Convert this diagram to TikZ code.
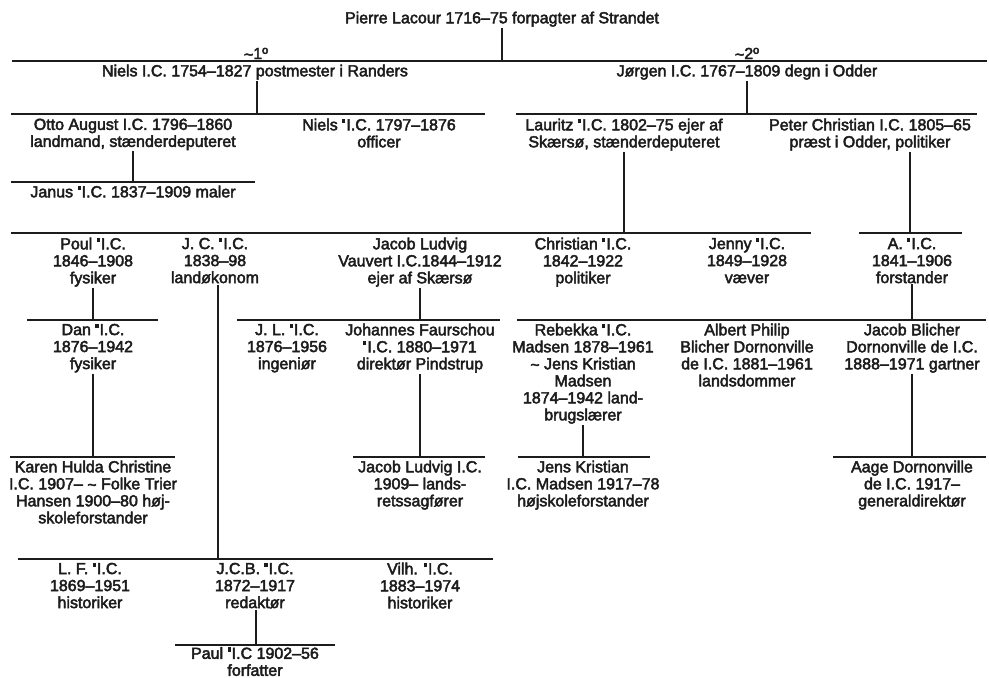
\documentclass[tikz,border=0pt]{standalone}
\usepackage{fontspec}
\setmainfont{Liberation Sans}[BoldFont=Liberation Sans,BoldFeatures={FakeBold=2.8}]
\definecolor{ink}{HTML}{1C1C1C}
\newcommand{\lcsq}{\raisebox{0.44em}{\rule{0.2em}{0.27em}}\kern0.06em}
\newcommand{\tld}{\raisebox{-0.06em}{\textasciitilde}}
\begin{document}
\begin{tikzpicture}[x=1pt,y=-1pt,
  every node/.style={inner xsep=0pt,inner ysep=1pt,text=ink,font=\fontsize{16}{17}\selectfont\bfseries},
  person/.style={anchor=north,align=center},
  marrlabel/.style={anchor=base},
  bar/.style={draw=ink,line width=1.2pt}]
\useasboundingbox (0,0) rectangle (989,678);
% ---------- persons ----------
\node[person] (pierre) at (502,10.5) {Pierre Lacour 1716–75 forpagter af Strandet};
\node[marrlabel] (m1) at (256,59) {\tld 1º};
\node[marrlabel] (m2) at (747,59) {\tld 2º};
\node[person] (niels) at (255,63.5) {Niels I.C. 1754–1827 postmester i Randers};
\node[person] (jorgen) at (747,63.5) {Jørgen I.C. 1767–1809 degn i Odder};
\node[person] (otto) at (133,117.5) {Otto August I.C. 1796–1860\\landmand, stænderdeputeret};
\node[person] (niels2) at (379,117.5) {Niels \lcsq I.C. 1797–1876\\officer};
\node[person] (lauritz) at (624,117.5) {Lauritz \lcsq I.C. 1802–75 ejer af\\Skærsø, stænderdeputeret};
\node[person] (peter) at (870,117.5) {Peter Christian I.C. 1805–65\\præst i Odder, politiker};
\node[person] (janus) at (133,184.5) {Janus \lcsq I.C. 1837–1909 maler};
\node[person] (poul) at (93,236.5) {Poul \lcsq I.C.\\1846–1908\\fysiker};
\node[person] (jc) at (215,236.5) {J. C. \lcsq I.C.\\1838–98\\landøkonom};
\node[person] (jacob) at (420,236.5) {Jacob Ludvig\\Vauvert I.C.1844–1912\\ejer af Skærsø};
\node[person] (christian) at (583,236.5) {Christian \lcsq I.C.\\1842–1922\\politiker};
\node[person] (jenny) at (747,236.5) {Jenny \lcsq I.C.\\1849–1928\\væver};
\node[person] (a) at (912,236.5) {A. \lcsq I.C.\\1841–1906\\forstander};
\node[person] (dan) at (93,322.5) {Dan \lcsq I.C.\\1876–1942\\fysiker};
\node[person] (jl) at (287,322.5) {J. L. \lcsq I.C.\\1876–1956\\ingeniør};
\node[person] (johannes) at (420,322.5) {Johannes Faurschou\\\lcsq I.C. 1880–1971\\direktør Pindstrup};
\node[person] (rebekka) at (583,322.5) {Rebekka \lcsq I.C.\\Madsen 1878–1961\\\tld\ Jens Kristian\\Madsen\\1874–1942 land-\\brugslærer};
\node[person] (albert) at (747,322.5) {Albert Philip\\Blicher Dornonville\\de I.C. 1881–1961\\landsdommer};
\node[person] (jblicher) at (912,322.5) {Jacob Blicher\\Dornonville de I.C.\\1888–1971 gartner};
\node[person] (karen) at (93,459.5) {Karen Hulda Christine\\I.C. 1907– \tld\ Folke Trier\\Hansen 1900–80 høj-\\skoleforstander};
\node[person] (jlic) at (420,459.5) {Jacob Ludvig I.C.\\1909– lands-\\retssagfører};
\node[person] (jens) at (583,459.5) {Jens Kristian\\I.C. Madsen 1917–78\\højskoleforstander};
\node[person] (aage) at (912,459.5) {Aage Dornonville\\de I.C. 1917–\\generaldirektør};
\node[person] (lf) at (90,561.5) {L. F. \lcsq I.C.\\1869–1951\\historiker};
\node[person] (jcb) at (255,561.5) {J.C.B. \lcsq I.C.\\1872–1917\\redaktør};
\node[person] (vilh) at (420,561.5) {Vilh. \lcsq I.C.\\1883–1974\\historiker};
\node[person] (paul) at (255,646) {Paul \lcsq I.C 1902–56\\forfatter};
% ---------- sibling bars ----------
\coordinate (b0l) at (12,61);   \coordinate (b0r) at (987,61);
\coordinate (b1l) at (11,114);  \coordinate (b1r) at (485,114);
\coordinate (b1l2) at (516,114);\coordinate (b1r2) at (977,114);
\coordinate (b2l) at (11,182);  \coordinate (b2r) at (255,182);
\coordinate (b3l) at (11,233);  \coordinate (b3r) at (811,233);
\coordinate (b3l2) at (859,233);\coordinate (b3r2) at (962,233);
\coordinate (b4l) at (27,320);  \coordinate (b4r) at (158,320);
\coordinate (b4l2) at (237,320);\coordinate (b4r2) at (500,320);
\coordinate (b4l3) at (517,320);\coordinate (b4r3) at (986,320);
\coordinate (b5l) at (10,457);  \coordinate (b5r) at (175,457);
\coordinate (b5l2) at (353,457);\coordinate (b5r2) at (485,457);
\coordinate (b5l3) at (518,457);\coordinate (b5r3) at (650,457);
\coordinate (b5l4) at (833,457);\coordinate (b5r4) at (986,457);
\coordinate (b6l) at (18,559);  \coordinate (b6r) at (493,559);
\coordinate (b7l) at (175,645); \coordinate (b7r) at (335,645);
\foreach \l/\r in {b0l/b0r,b1l/b1r,b1l2/b1r2,b2l/b2r,b3l/b3r,b3l2/b3r2,
  b4l/b4r,b4l2/b4r2,b4l3/b4r3,b5l/b5r,b5l2/b5r2,b5l3/b5r3,b5l4/b5r4,b6l/b6r,b7l/b7r}
  \draw[bar] (\l) -- (\r);
% ---------- descent lines ----------
\coordinate (j0) at (502,61);
\coordinate (j1) at (257,114);
\coordinate (j2) at (747,114);
\coordinate (j3) at (133,182);
\coordinate (j4) at (624,233);
\coordinate (j5) at (910,233);
\coordinate (j6) at (93,320);
\coordinate (j7) at (93,457);
\coordinate (j8) at (218,559);
\coordinate (j9) at (420,320);
\coordinate (j10) at (420,457);
\coordinate (j11) at (912,320);
\coordinate (j12) at (583,457);
\coordinate (j13) at (912,457);
\coordinate (j14) at (256,645);
\foreach \p/\j in {pierre/j0,niels/j1,jorgen/j2,otto/j3,lauritz/j4,peter/j5,poul/j6,
  dan/j7,jc/j8,jacob/j9,johannes/j10,a/j11,rebekka/j12,jblicher/j13,jcb/j14}
  \draw[bar] (\p.south -| \j) -- (\j);
\end{tikzpicture}
\end{document}
